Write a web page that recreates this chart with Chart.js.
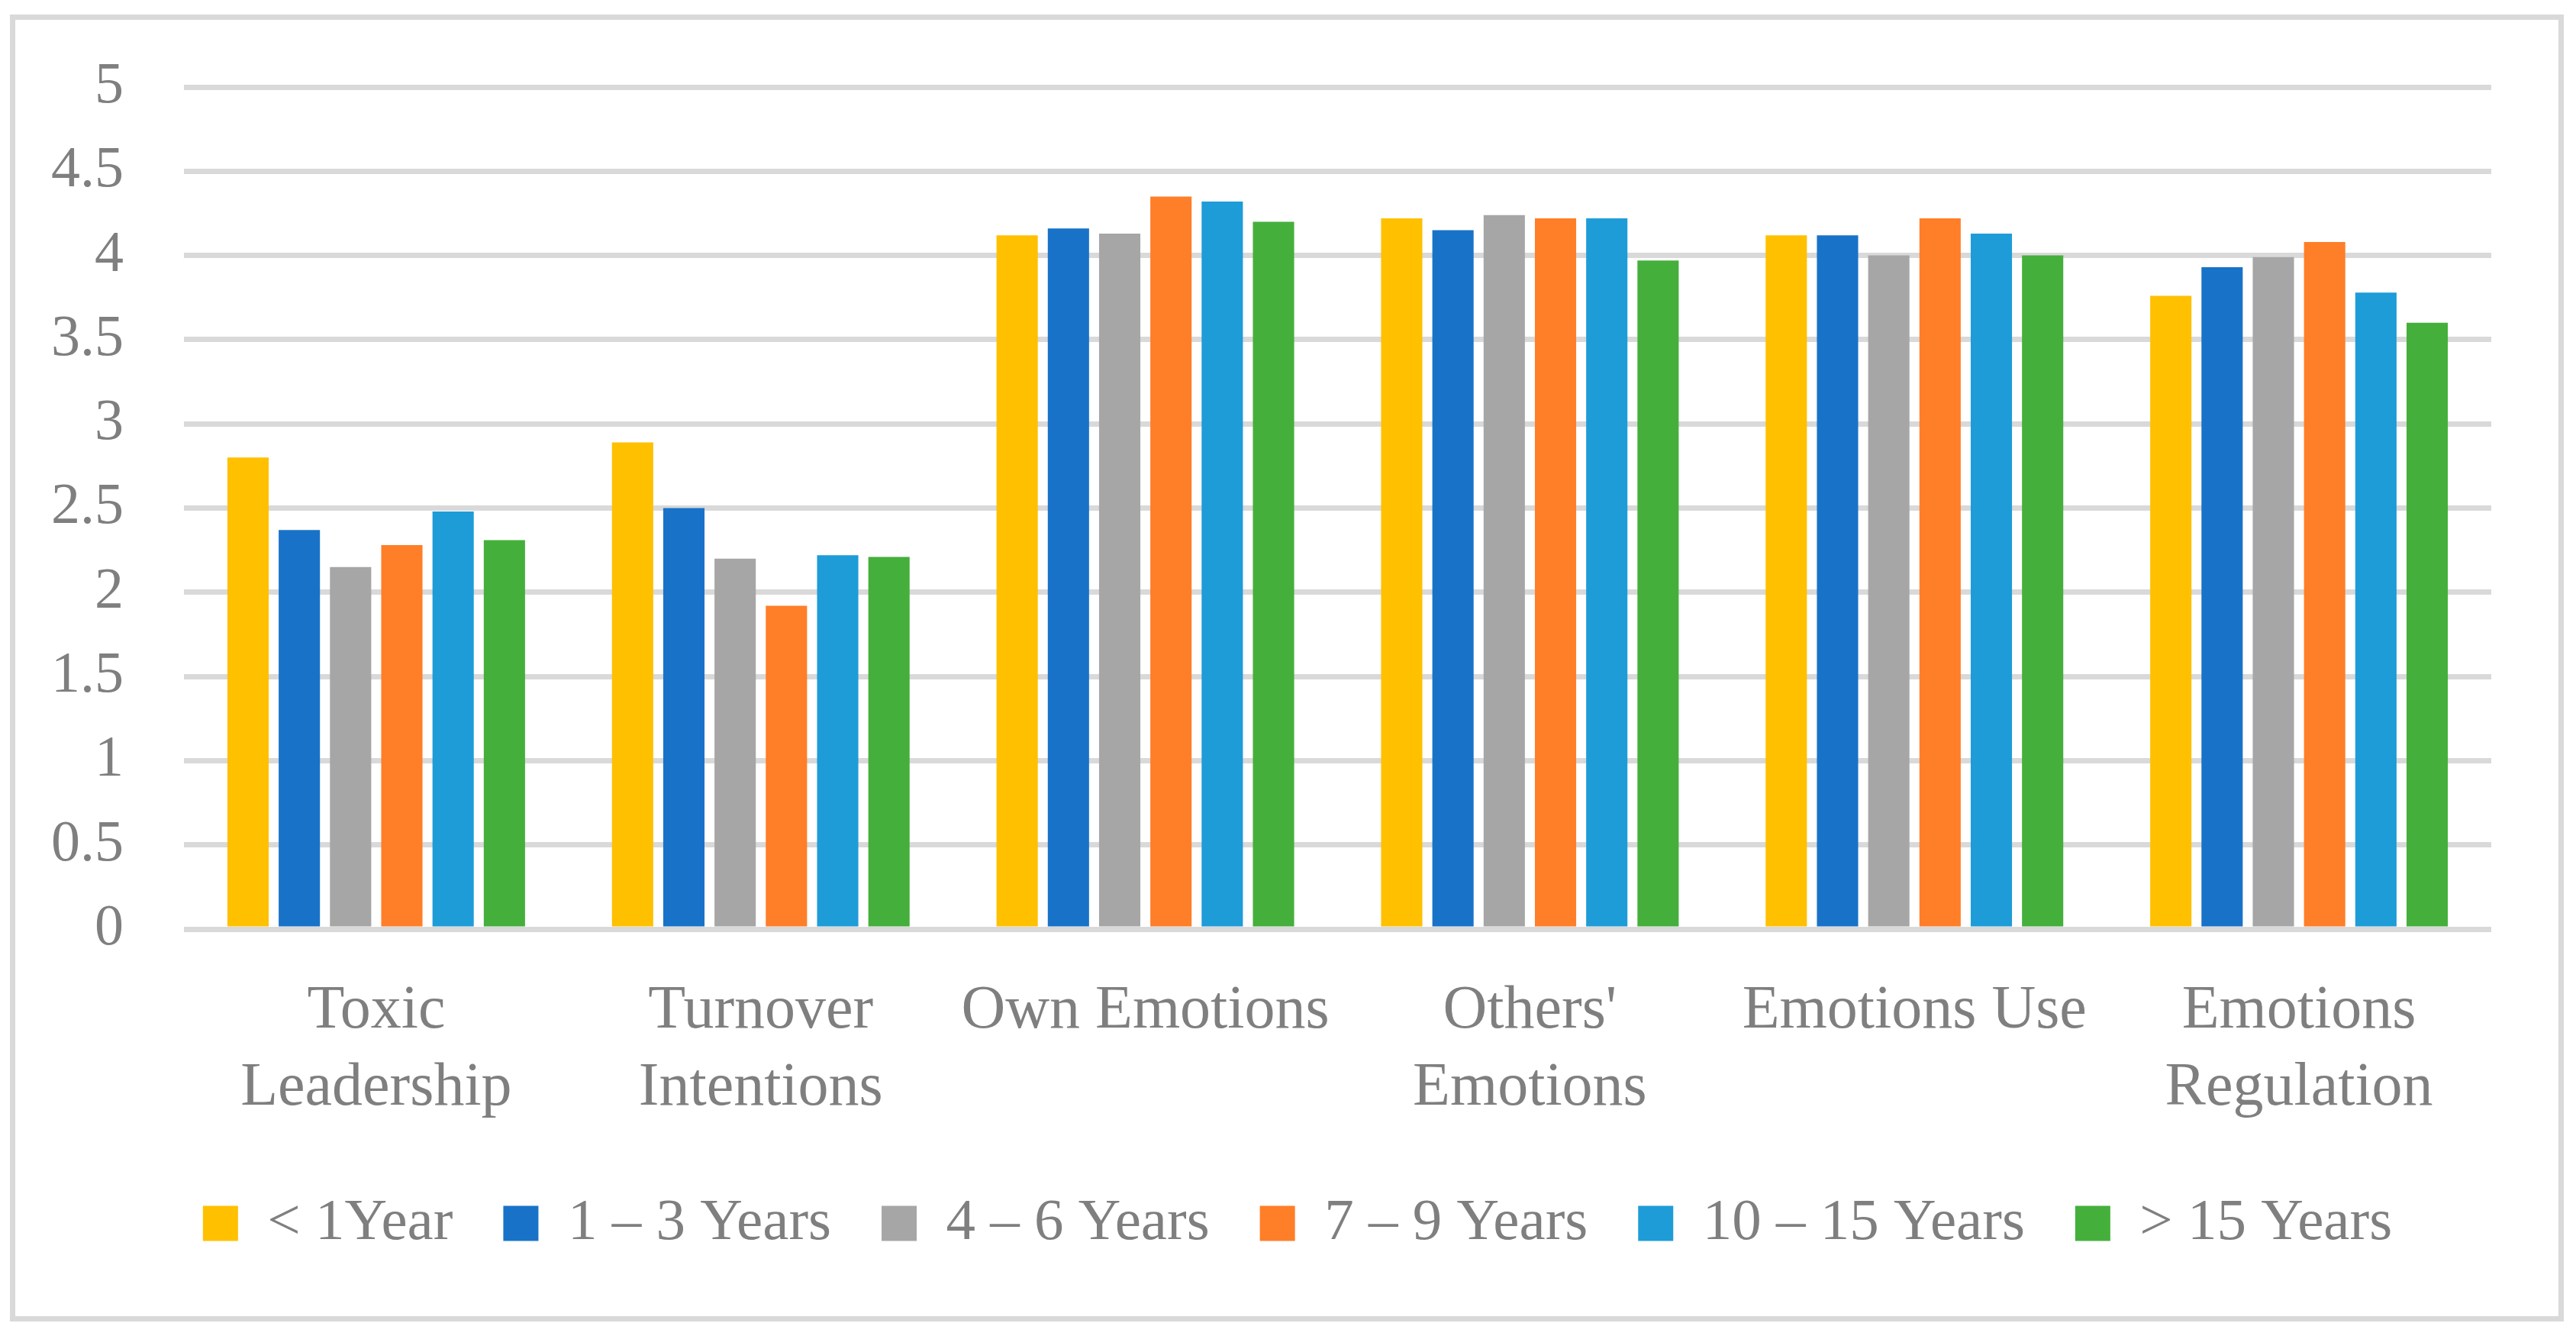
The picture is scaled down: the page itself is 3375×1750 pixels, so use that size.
<!DOCTYPE html>
<html>
<head>
<meta charset="utf-8">
<script src="https://cdn.jsdelivr.net/npm/chart.js@4"></script>
<style>
  html, body { margin: 0; padding: 0; background: #ffffff; width: 3375px; height: 1750px; overflow: hidden; }
  #wrap { position: absolute; left: 0; top: 0; width: 3375px; height: 1750px; }
  #frame { position: absolute; left: 13px; top: 19px; width: 3346px; height: 1712px; box-sizing: border-box; border: 7px solid #d9d9d9; pointer-events: none; }
  canvas { position: absolute; left: 0; top: 0; }
</style>
</head>
<body>
<div id="wrap">
  <canvas id="c" width="3375" height="1750" style="width:3375px;height:1750px"></canvas>
  <div id="frame"></div>
</div>
<script>
const categories = [
  ["Toxic", "Leadership"],
  ["Turnover", "Intentions"],
  "Own Emotions",
  ["Others'", "Emotions"],
  "Emotions Use",
  ["Emotions", "Regulation"]
];
const seriesNames = ["< 1Year", "1 \u2013 3 Years", "4 \u2013 6 Years", "7 \u2013 9 Years", "10 \u2013 15 Years", "> 15 Years"];
const lessThan1Year  = [2.80, 2.89, 4.12, 4.22, 4.12, 3.76];
const years1to3      = [2.37, 2.50, 4.16, 4.15, 4.12, 3.93];
const years4to6      = [2.15, 2.20, 4.13, 4.24, 4.00, 3.99];
const years7to9      = [2.28, 1.92, 4.35, 4.22, 4.22, 4.08];
const years10to15    = [2.48, 2.22, 4.32, 4.22, 4.13, 3.78];
const moreThan15     = [2.31, 2.21, 4.20, 3.97, 4.00, 3.60];
const yTickLabels = ["0", "0.5", "1", "1.5", "2", "2.5", "3", "3.5", "4", "4.5", "5"];
const seriesColors = ["#FFC000", "#1873C8", "#A6A6A6", "#FF7E28", "#1E9CD8", "#45AF3C"];

const seriesValues = [lessThan1Year, years1to3, years4to6, years7to9, years10to15, moreThan15];
const FONT = "'Liberation Serif', 'Times New Roman', serif";
const TEXT = "#7f7f7f";
const GRID = "#d9d9d9";

const legendShift = {
  id: "legendShift",
  afterLayout(chart) {
    const l = chart.legend;
    if (l) { l.left += 68; l.right += 68; }
  }
};

new Chart(document.getElementById("c"), {
  type: "bar",
  data: {
    labels: categories,
    datasets: seriesNames.map((name, i) => ({
      label: name,
      data: seriesValues[i],
      backgroundColor: seriesColors[i],
      borderWidth: 0,
      categoryPercentage: 0.8,
      barPercentage: 0.805
    }))
  },
  plugins: [legendShift],
  options: {
    responsive: false,
    devicePixelRatio: 1,
    animation: false,
    layout: { padding: { left: 0, right: 111, top: 114, bottom: 99 } },
    plugins: {
      tooltip: { enabled: false },
      legend: {
        position: "bottom",
        align: "center",
        labels: {
          boxWidth: 46,
          boxHeight: 46,
          padding: 66,
          color: TEXT,
          font: { family: FONT, size: 77 }
        }
      }
    },
    scales: {
      x: {
        grid: { display: false, drawTicks: false },
        border: { display: false },
        ticks: {
          color: TEXT,
          font: { family: FONT, size: 80, lineHeight: 1.26 },
          padding: 58,
          autoSkip: false,
          maxRotation: 0,
          minRotation: 0
        },
        afterFit: (s) => { s.height = 281; }
      },
      y: {
        min: 0,
        max: 5,
        grid: { color: GRID, lineWidth: 7, drawTicks: true, tickLength: 79, tickColor: "rgba(0,0,0,0)" },
        border: { display: false },
        ticks: {
          stepSize: 0.5,
          color: TEXT,
          font: { family: FONT, size: 76 },
          padding: 0,
          callback: (v, i) => yTickLabels[i]
        },
        afterFit: (s) => { s.width = 241; }
      }
    }
  }
});
</script>
</body>
</html>
